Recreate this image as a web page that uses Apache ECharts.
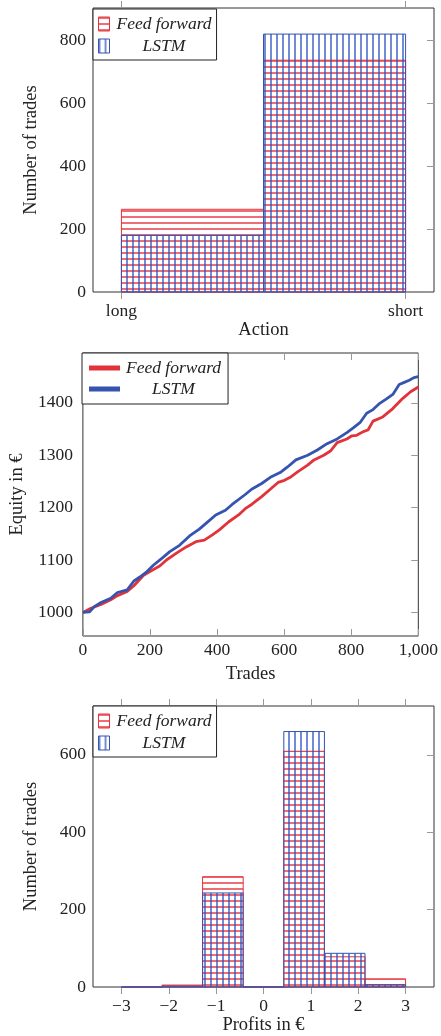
<!DOCTYPE html>
<html><head><meta charset="utf-8">
<script src="https://cdn.jsdelivr.net/npm/echarts@6/dist/echarts.min.js"></script>
<style>html,body{margin:0;padding:0;background:#fff}#c{width:441px;height:1036px}</style>
</head><body><div id="c"></div>
<script>
// ---------- data ----------
const seriesNames = ['Feed forward', 'LSTM'];

// Chart 1: actions
const actionCategories = ['long', 'short'];
const actionEdges = [0, 0.5, 1];
const actionFF = [263, 737];
const actionLSTM = [180, 820];
const actionYTicks = [0, 200, 400, 600, 800];

// Chart 2: equity curves
const ffTrades = [0,24,54,83,103,132,152,181,200,230,249,279,308,337,362,386,406,435,464,484,503,533,562,582,601,621,640,670,689,718,738,758,787,802,816,836,850,865,894,924,953,977,1000];
const ffEquity = [1000,1008,1015,1024,1032,1040,1051,1071,1078,1089,1100,1113,1125,1135,1138,1148,1157,1173,1186,1198,1206,1221,1237,1248,1252,1259,1268,1281,1291,1300,1308,1324,1331,1337,1338,1345,1348,1365,1373,1389,1408,1421,1430];
const lstmTrades = [0,20,34,54,83,103,132,152,171,191,210,239,259,288,318,347,367,396,425,445,484,503,533,562,591,611,635,670,699,728,758,787,806,826,846,865,885,904,924,943,958,973,987,1000];
const lstmEquity = [1000,1001,1011,1019,1027,1038,1043,1060,1068,1078,1090,1105,1116,1128,1146,1159,1170,1186,1195,1206,1225,1235,1246,1259,1268,1278,1291,1300,1310,1322,1331,1343,1352,1362,1380,1387,1399,1407,1416,1435,1439,1443,1448,1450];
const tradeTicks = [0, 200, 400, 600, 800, 1000];
const equityTicks = [1000, 1100, 1200, 1300, 1400];

// Chart 3: profit histogram
const profitEdges = [-3, -2.143, -1.286, -0.429, 0.429, 1.286, 2.143, 3];
const profitFF = [0, 5, 285, 0, 609, 78, 21];
const profitLSTM = [0, 2, 243, 0, 660, 87, 6];
const profitXTicks = [-3, -2, -1, 0, 1, 2, 3];
const profitYTicks = [0, 200, 400, 600];

// ---------- styles ----------
const RED = '#e2323a', BLUE = '#3554b0';
const FONT = 'Liberation Serif';
const txt = {fontFamily: FONT, fontSize: 17.5, color: '#222'};
const nameTxt = {fontFamily: FONT, fontSize: 18.5, color: '#222'};
const TICK = {color: '#999', width: 1};

function hatch(color, vertical) {
  const c = document.createElement('canvas');
  c.width = 6; c.height = 6;
  const g = c.getContext('2d');
  g.fillStyle = color;
  if (vertical) g.fillRect(0, 0, 2, 6); else g.fillRect(0, 0, 6, 2);
  return c;
}
const redFill = {image: hatch('rgba(232,40,52,0.68)', false), repeat: 'repeat'};
const blueFill = {image: hatch('rgba(40,80,190,0.66)', true), repeat: 'repeat'};

function intervals(edges, vals) {
  return vals.map((v, i) => [edges[i], edges[i + 1], v]);
}
function histSeries(name, data, fill, stroke, gi) {
  return {
    type: 'custom', name: name, xAxisIndex: gi * 2, yAxisIndex: gi * 2,
    itemStyle: {color: fill, borderColor: stroke, borderWidth: 1},
    encode: {x: [0, 1], y: 2},
    data: data,
    renderItem: function (params, api) {
      const p0 = api.coord([api.value(0), api.value(2)]);
      const p1 = api.coord([api.value(1), 0]);
      return {
        type: 'rect',
        shape: {x: p0[0], y: p0[1], width: p1[0] - p0[0], height: p1[1] - p0[1]},
        style: {fill: fill, stroke: stroke, lineWidth: 1}
      };
    }
  };
}

const noLine = {show: false, onZero: false};
function xPair(gi, min, max, ticks, fmt, inside, name, nameGap, labelMargin) {
  return [
    {gridIndex: gi, type: 'value', min: min, max: max, position: 'bottom',
     axisLine: noLine, splitLine: {show: false},
     axisTick: {show: true, customValues: ticks, inside: inside, length: 7, lineStyle: TICK},
     axisLabel: Object.assign({customValues: ticks, formatter: fmt, margin: labelMargin}, txt),
     name: name, nameLocation: 'middle', nameGap: nameGap, nameTextStyle: nameTxt},
    {gridIndex: gi, type: 'value', min: min, max: max, position: 'top',
     axisLine: noLine, splitLine: {show: false},
     axisTick: {show: true, customValues: ticks, inside: inside, length: 7, lineStyle: TICK},
     axisLabel: {show: false}}
  ];
}
function yPair(gi, min, max, ticks, name, nameGap, labelMargin) {
  return [
    {gridIndex: gi, type: 'value', min: min, max: max, position: 'left',
     axisLine: noLine, splitLine: {show: false}, axisTick: {show: false},
     axisLabel: Object.assign({customValues: ticks, margin: labelMargin, formatter: v => String(v)}, txt),
     name: name, nameLocation: 'middle', nameGap: nameGap, nameTextStyle: nameTxt},
    {gridIndex: gi, type: 'value', min: min, max: max, position: 'right',
     axisLine: noLine, splitLine: {show: false},
     axisTick: {show: true, customValues: ticks, inside: true, length: 7, lineStyle: TICK},
     axisLabel: {show: false}}
  ];
}

const legendText = {
  fontFamily: FONT, fontSize: 17.5, color: '#222', fontStyle: 'italic',
  rich: {t: {fontFamily: FONT, fontSize: 17.5, color: '#222', fontStyle: 'italic', width: 99, align: 'center'}}
};
function legendBox(left, top, data, iw, ih, pad, gap) {
  return {
    orient: 'vertical', left: left, top: top, data: data,
    itemWidth: iw, itemHeight: ih, itemGap: gap,
    padding: pad, borderColor: '#222', borderWidth: 1, backgroundColor: '#fff',
    textStyle: legendText, formatter: n => '{t|' + n + '}', selectedMode: false
  };
}
const barLegendData = [
  {name: seriesNames[0], icon: 'rect', itemStyle: {color: redFill, borderColor: RED, borderWidth: 1}},
  {name: seriesNames[1], icon: 'rect', itemStyle: {color: blueFill, borderColor: BLUE, borderWidth: 1}}
];

const zip = (a, b) => a.map((v, i) => [v, b[i]]);
const minus = v => (v < 0 ? '\u2212' + Math.abs(v) : String(v));

const chart = echarts.init(document.getElementById('c'), null, {renderer: 'canvas'});
chart.setOption({
  animation: false,
  backgroundColor: '#fff',
  grid: [
    {left: 93, top: 8, width: 341, height: 284, show: true, borderColor: '#333', borderWidth: 1, backgroundColor: 'transparent'},
    {left: 82, top: 353, width: 341, height: 283, show: true, borderColor: '#333', borderWidth: 1, backgroundColor: 'transparent'},
    {left: 93, top: 706, width: 341, height: 283, show: true, borderColor: '#333', borderWidth: 1, backgroundColor: 'transparent'}
  ],
  xAxis: [].concat(
    xPair(0, -0.1, 1.1, [0, 1], v => actionCategories[Math.round(v)], false, 'Action', 28, 10),
    xPair(1, 0, 1000, tradeTicks, v => v.toLocaleString('en-US'), true, 'Trades', 29, 5),
    xPair(2, -3.6, 3.6, profitXTicks, minus, false, 'Profits in \u20ac', 29, 10)
  ),
  yAxis: [].concat(
    yPair(0, 0, 903, actionYTicks, 'Number of trades', 52, 7),
    yPair(1, 955, 1495, equityTicks, 'Equity in \u20ac', 54, 10),
    yPair(2, 0, 726, profitYTicks, 'Number of trades', 52, 7)
  ),
  legend: [
    legendBox(93, 9, barLegendData, 11, 14, [6, 5, 5, 5], 4),
    legendBox(82, 353, [
      {name: seriesNames[0], icon: 'rect', itemStyle: {color: RED}},
      {name: seriesNames[1], icon: 'rect', itemStyle: {color: BLUE}}
    ], 29, 3, [6, 7, 6, 7], 3),
    legendBox(93, 706, barLegendData, 11, 14, [6, 5, 5, 5], 4)
  ],
  series: [
    histSeries(seriesNames[0], intervals(actionEdges, actionFF), redFill, RED, 0),
    histSeries(seriesNames[1], intervals(actionEdges, actionLSTM), blueFill, BLUE, 0),
    {type: 'line', name: seriesNames[0], xAxisIndex: 2, yAxisIndex: 2, data: zip(ffTrades, ffEquity),
     symbol: 'none', lineStyle: {color: RED, width: 2.8}, itemStyle: {color: RED}},
    {type: 'line', name: seriesNames[1], xAxisIndex: 2, yAxisIndex: 2, data: zip(lstmTrades, lstmEquity),
     symbol: 'none', lineStyle: {color: BLUE, width: 2.8}, itemStyle: {color: BLUE}},
    histSeries(seriesNames[0], intervals(profitEdges, profitFF), redFill, RED, 2),
    histSeries(seriesNames[1], intervals(profitEdges, profitLSTM), blueFill, BLUE, 2)
  ]
});
</script></body></html>
